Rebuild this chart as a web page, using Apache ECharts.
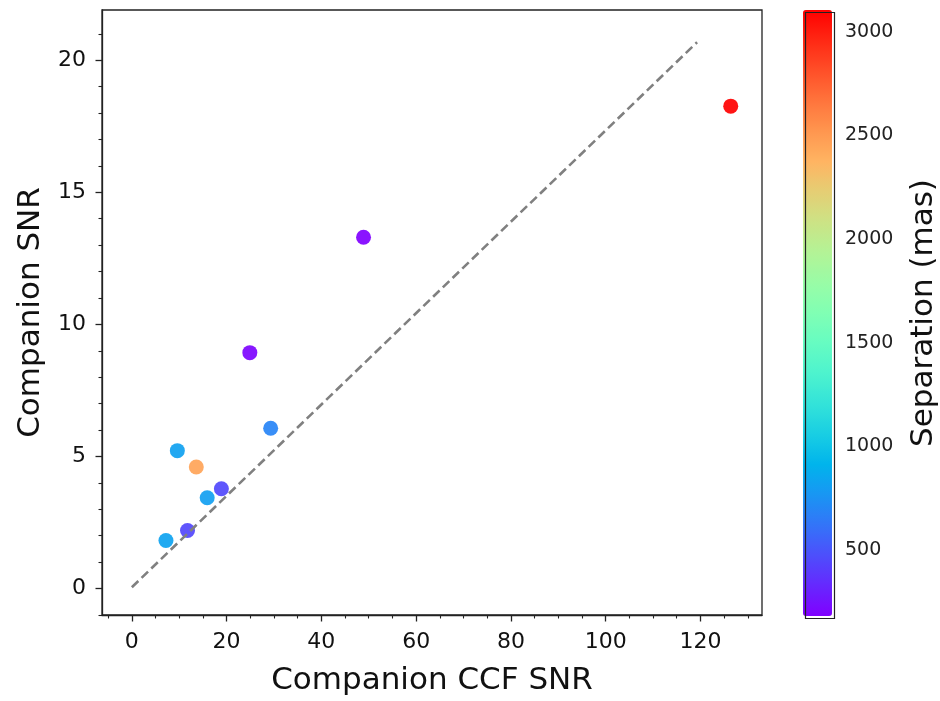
<!DOCTYPE html>
<html>
<head>
<meta charset="utf-8">
<script src="https://cdn.jsdelivr.net/npm/echarts@6/dist/echarts.min.js"></script>
<style>html,body{margin:0;padding:0;background:#fff;}#c{width:940px;height:701px;}</style>
</head>
<body>
<div id="c"></div>
<script>
// ---- data ----
const ccfSNR = [126.4, 48.9, 24.9, 29.3, 9.6, 13.6, 18.9, 15.9, 11.75, 7.2];
const companionSNR = [18.26, 13.3, 8.93, 6.07, 5.22, 4.6, 3.78, 3.44, 2.2, 1.82];
const separation = [3105, 182, 195, 690, 820, 2450, 450, 810, 440, 830];
const oneToOneX = [0, 119.3];
const oneToOneY = [0.05, 20.68];
const xTicks = [0, 20, 40, 60, 80, 100, 120];
const yTicks = [0, 5, 10, 15, 20];
const cbTicks = [500, 1000, 1500, 2000, 2500, 3000];
const xMinor = [-5, 5, 10, 15, 25, 30, 35, 45, 50, 55, 65, 70, 75, 85, 90, 95, 105, 110, 115, 125, 130];
const yMinor = [-1, 1, 2, 3, 4, 6, 7, 8, 9, 11, 12, 13, 14, 16, 17, 18, 19, 21];
const sepMin = 182, sepMax = 3105;

// matplotlib "rainbow" colormap stops
function rainbow(t) {
  const c = v => Math.round(Math.max(0, Math.min(1, v)) * 255);
  return 'rgb(' + c(Math.abs(2 * t - 0.5)) + ',' + c(Math.sin(Math.PI * t)) + ',' + c(Math.cos(Math.PI * t / 2)) + ')';
}
const rainbowStops = [];
for (let i = 0; i <= 20; i++) rainbowStops.push(rainbow(i / 20));

const scatterData = ccfSNR.map((x, i) => [x, companionSNR[i], separation[i]]);
const lineData = oneToOneX.map((x, i) => [x, oneToOneY[i]]);

const FONT = 'DejaVu Sans';
const TXT = '#111';
const X_MIN = -6.3, X_MAX = 133, Y_MIN = -1.0, Y_MAX = 21.9;

const chart = echarts.init(document.getElementById('c'));
chart.setOption({
  animation: false,
  backgroundColor: '#fff',
  grid: [
    {left: 102, top: 10, width: 660, height: 606, show: true, borderColor: '#222', borderWidth: 1.3, backgroundColor: 'transparent', containLabel: false},
    {left: 803, top: 10, width: 29, height: 606, show: false}
  ],
  xAxis: [
    {gridIndex: 0, type: 'value', min: X_MIN, max: X_MAX, position: 'bottom',
     name: 'Companion CCF SNR', nameLocation: 'middle', nameGap: 50,
     nameTextStyle: {fontFamily: FONT, fontSize: 31, color: TXT},
     axisLine: {show: true, onZero: false, lineStyle: {color: '#222', width: 1.3}},
     axisTick: {show: true, length: 6.5, lineStyle: {color: '#222', width: 1.3}, customValues: xTicks},
     axisLabel: {fontFamily: FONT, fontSize: 22, color: TXT, margin: 16, customValues: xTicks},
     splitLine: {show: false}},
    {gridIndex: 0, type: 'value', min: X_MIN, max: X_MAX, position: 'bottom',
     axisLine: {show: false, onZero: false},
     axisTick: {show: true, length: 3.5, lineStyle: {color: '#222', width: 1.1}, customValues: xMinor},
     axisLabel: {show: false}, splitLine: {show: false}},
    {gridIndex: 1, type: 'value', min: 0, max: 1, show: false}
  ],
  yAxis: [
    {gridIndex: 0, type: 'value', min: Y_MIN, max: Y_MAX, position: 'left',
     name: 'Companion SNR', nameLocation: 'middle', nameGap: 56, nameRotate: 90,
     nameTextStyle: {fontFamily: FONT, fontSize: 31, color: TXT},
     axisLine: {show: true, onZero: false, lineStyle: {color: '#222', width: 1.3}},
     axisTick: {show: true, length: 6.5, lineStyle: {color: '#222', width: 1.3}, customValues: yTicks},
     axisLabel: {fontFamily: FONT, fontSize: 22, color: TXT, margin: 16, customValues: yTicks},
     splitLine: {show: false}},
    {gridIndex: 0, type: 'value', min: Y_MIN, max: Y_MAX, position: 'left',
     axisLine: {show: false, onZero: false},
     axisTick: {show: true, length: 3.5, lineStyle: {color: '#222', width: 1.1}, customValues: yMinor},
     axisLabel: {show: false}, splitLine: {show: false}},
    {gridIndex: 1, type: 'value', min: sepMin, max: sepMax, position: 'right',
     name: 'Separation (mas)', nameLocation: 'middle', nameGap: 77, nameRotate: 90,
     nameTextStyle: {fontFamily: FONT, fontSize: 31, color: TXT},
     axisLine: {show: false},
     axisTick: {show: true, length: 5, lineStyle: {color: '#222', width: 1.1}, customValues: cbTicks},
     axisLabel: {fontFamily: FONT, fontSize: 19, color: '#222', margin: 14, customValues: cbTicks,
                 formatter: v => String(v)},
     splitLine: {show: false}}
  ],
  visualMap: [{
    type: 'continuous', seriesIndex: 0, dimension: 2,
    min: sepMin, max: sepMax, calculable: false, hoverLink: false,
    left: 803, top: 10, padding: 0, itemWidth: 29, itemHeight: 606,
    inRange: {color: rainbowStops},
    text: null, showLabel: false
  }],
  graphic: [{
    type: 'rect', left: 803, top: 10, z: 100, silent: true,
    shape: {width: 29, height: 606},
    style: {fill: 'none', stroke: '#222', lineWidth: 1.2}
  }],
  series: [
    {type: 'scatter', xAxisIndex: 0, yAxisIndex: 0, data: scatterData, symbolSize: 15,
     itemStyle: {opacity: 0.92}, z: 2},
    {type: 'line', xAxisIndex: 0, yAxisIndex: 0, data: lineData, showSymbol: false, symbol: 'none',
     lineStyle: {color: '#808080', width: 2.6, type: [9, 4.5]}, z: 3}
  ]
});
</script>
</body>
</html>
